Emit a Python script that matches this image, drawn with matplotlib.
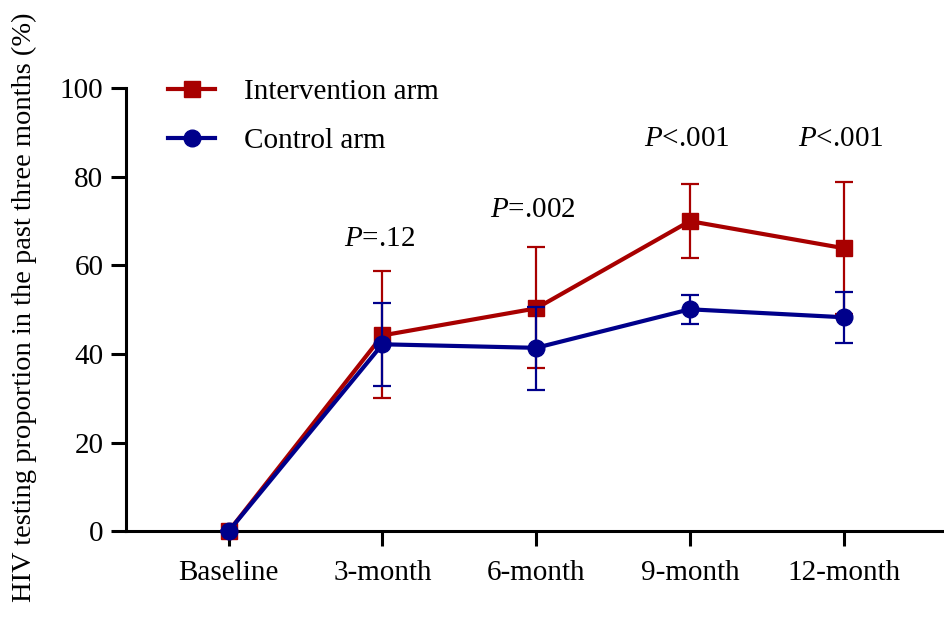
import numpy as np
import matplotlib.pyplot as plt

plt.rcParams['font.family'] = ['Liberation Serif', 'DejaVu Serif']
plt.rcParams['mathtext.fontset'] = 'custom'
plt.rcParams['mathtext.it'] = 'Liberation Serif:italic'

# Data
labels = ['Baseline', '3-month', '6-month', '9-month', '12-month']
interv = [0, 44.2, 50.3, 70.0, 63.9]
interv_lo = [0, 30.0, 36.8, 61.6, 49.0]
interv_hi = [0, 58.7, 64.2, 78.3, 78.8]
control = [0, 42.2, 41.4, 50.1, 48.3]
control_lo = [0, 32.7, 31.8, 46.7, 42.4]
control_hi = [0, 51.5, 50.6, 53.3, 54.0]
pvals = ['', r'$P$=.12', r'$P$=.002', r'$P$<.001', r'$P$<.001']
p_y = [0, 66, 72.5, 88.5, 88.5]

red = '#A80000'
blue = '#00008B'
fs = 21

x = np.arange(len(labels))
fig = plt.figure(figsize=(9.45, 6.17), dpi=100)
ax = fig.add_axes([0.133, 0.139, 0.867, 0.718])

i_err = [np.array(interv) - np.array(interv_lo), np.array(interv_hi) - np.array(interv)]
c_err = [np.array(control) - np.array(control_lo), np.array(control_hi) - np.array(control)]

ax.errorbar(x, interv, yerr=i_err, fmt='none', ecolor=red, elinewidth=1.6,
            capsize=6.5, capthick=1.6, zorder=2, clip_on=False)
ax.plot(x, interv, color=red, lw=3, marker='s', ms=12, zorder=3,
        clip_on=False, label='Intervention arm')
ax.errorbar(x, control, yerr=c_err, fmt='none', ecolor=blue, elinewidth=1.6,
            capsize=6.5, capthick=1.6, zorder=4, clip_on=False)
ax.plot(x, control, color=blue, lw=3, marker='o', ms=12, zorder=5,
        clip_on=False, label='Control arm')

for xi, txt, yi in zip(x, pvals, p_y):
    if txt:
        ax.text(xi - 0.02, yi, txt, ha='center', va='center', fontsize=fs)

ax.set_xlim(-0.67, 4.66)
ax.set_ylim(0, 100)
ax.set_yticks([0, 20, 40, 60, 80, 100])
ax.set_xticks(x)
ax.set_xticklabels(labels)
ax.tick_params(axis='both', labelsize=fs, width=2.2, length=11, direction='out')
ax.tick_params(axis='x', pad=10)
ax.tick_params(axis='y', pad=5)
ax.spines['top'].set_visible(False)
ax.spines['right'].set_visible(False)
ax.spines['left'].set_linewidth(2.2)
ax.spines['bottom'].set_linewidth(2.2)

fig.text(24 / 945, 1 - 307 / 617, 'HIV testing proportion in the past three months (%)',
         rotation=90, ha='center', va='center', fontsize=20.5)

ax.legend(loc='upper left', bbox_to_anchor=(0.02, 1.08), frameon=False,
          fontsize=fs, handlelength=1.6, labelspacing=0.75, handletextpad=1.0)

fig.savefig('out.png', dpi=100)
